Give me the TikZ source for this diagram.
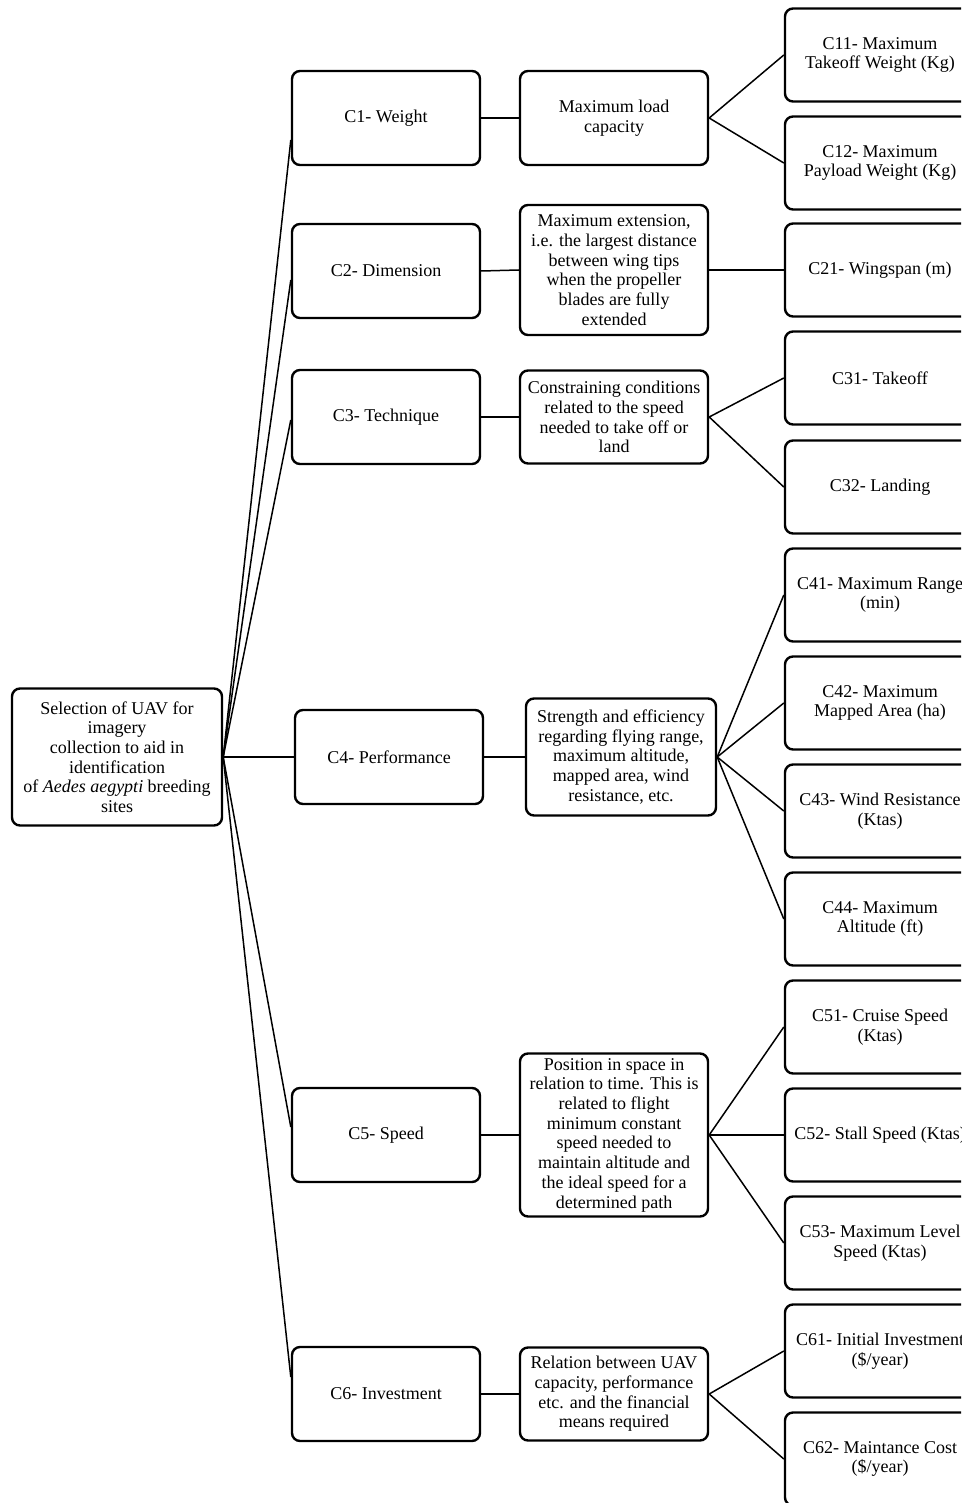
\documentclass[tikz,border=0pt]{standalone}
\usepackage{fontspec}
\setmainfont{Liberation Serif}
\begin{document}
\begin{tikzpicture}[x=1pt,y=-1pt,
  box/.style={draw, line width=2.4pt, rounded corners=8pt, align=center,
    font=\fontsize{18}{19.7}\selectfont, inner sep=1pt, fill=white},
  crit/.style={box, minimum width=188pt, minimum height=94pt},
  desc/.style={box, minimum width=188pt},
  sub/.style={box, minimum width=190pt, minimum height=93pt},
  link/.style={line width=1.5pt}]
\useasboundingbox (0,0) rectangle (961,1503);
\clip (0,0) rectangle (961,1503);

% root
\node[box, minimum width=210pt, minimum height=137pt] (root) at (117,757)
  {Selection of UAV for\\imagery\\collection to aid in\\identification\\of \textit{Aedes aegypti} breeding\\sites};

% criteria
\node[crit] (c1) at (386,118) {C1- Weight};
\node[crit] (c2) at (386,271) {C2- Dimension};
\node[crit] (c3) at (386,417) {C3- Technique};
\node[crit] (c4) at (389,757) {C4- Performance};
\node[crit] (c5) at (386,1135) {C5- Speed};
\node[crit] (c6) at (386,1394) {C6- Investment};

% descriptions
\node[desc, minimum height=94pt] (d1) at (614,118) {Maximum load\\capacity};
\node[desc, minimum height=130pt] (d2) at (614,270) {Maximum extension,\\i.e. the largest distance\\between wing tips\\when the propeller\\blades are fully\\extended};
\node[desc, minimum height=93pt] (d3) at (614,417) {Constraining conditions\\related to the speed\\needed to take off or\\land};
\node[desc, minimum width=190pt, minimum height=117pt] (d4) at (621,757) {Strength and efficiency\\regarding flying range,\\maximum altitude,\\mapped area, wind\\resistance, etc.};
\node[desc, minimum height=163pt] (d5) at (614,1135) {Position in space in\\relation to time. This is\\related to flight\\minimum constant\\speed needed to\\maintain altitude and\\the ideal speed for a\\determined path};
\node[desc, minimum height=93pt] (d6) at (614,1394) {Relation between UAV\\capacity, performance\\etc. and the financial\\means required};

% sub-criteria
\node[sub] (s11) at (880,55) {C11- Maximum\\Takeoff Weight (Kg)};
\node[sub] (s12) at (880,163) {C12- Maximum\\Payload Weight (Kg)};
\node[sub] (s21) at (880,270) {C21- Wingspan (m)};
\node[sub] (s31) at (880,378) {C31- Takeoff};
\node[sub] (s32) at (880,487) {C32- Landing};
\node[sub] (s41) at (880,595) {C41- Maximum Range\\(min)};
\node[sub] (s42) at (880,703) {C42- Maximum\\Mapped Area (ha)};
\node[sub] (s43) at (880,811) {C43- Wind Resistance\\(Ktas)};
\node[sub] (s44) at (880,919) {C44- Maximum\\Altitude (ft)};
\node[sub] (s51) at (880,1027) {C51- Cruise Speed\\(Ktas)};
\node[sub] (s52) at (880,1135) {C52- Stall Speed (Ktas)};
\node[sub] (s53) at (880,1243) {C53- Maximum Level\\Speed (Ktas)};
\node[sub] (s61) at (880,1351) {C61- Initial Investment\\(\$/year)};
\node[sub] (s62) at (880,1459) {C62- Maintance Cost\\(\$/year)};

% root connectors
\draw[link] (root.east) -- ([yshift=-22pt]c1.west);
\draw[link] (root.east) -- ([yshift=-9pt]c2.west);
\draw[link] (root.east) -- ([yshift=-3pt]c3.west);
\draw[link] (root.east) -- (c4.west);
\draw[link] (root.east) -- ([yshift=8pt]c5.west);
\draw[link] (root.east) -- ([yshift=17pt]c6.west);

% criteria to descriptions
\foreach \i in {1,...,6} \draw[link] (c\i.east) -- (d\i.west);

% descriptions to sub-criteria
\draw[link] (d1.east) -- (s11.west);
\draw[link] (d1.east) -- (s12.west);
\draw[link] (d2.east) -- (s21.west);
\draw[link] (d3.east) -- (s31.west);
\draw[link] (d3.east) -- (s32.west);
\foreach \j in {41,42,43,44} \draw[link] (d4.east) -- (s\j.west);
\foreach \j in {51,52,53} \draw[link] (d5.east) -- (s\j.west);
\draw[link] (d6.east) -- (s61.west);
\draw[link] (d6.east) -- (s62.west);
\end{tikzpicture}
\end{document}
